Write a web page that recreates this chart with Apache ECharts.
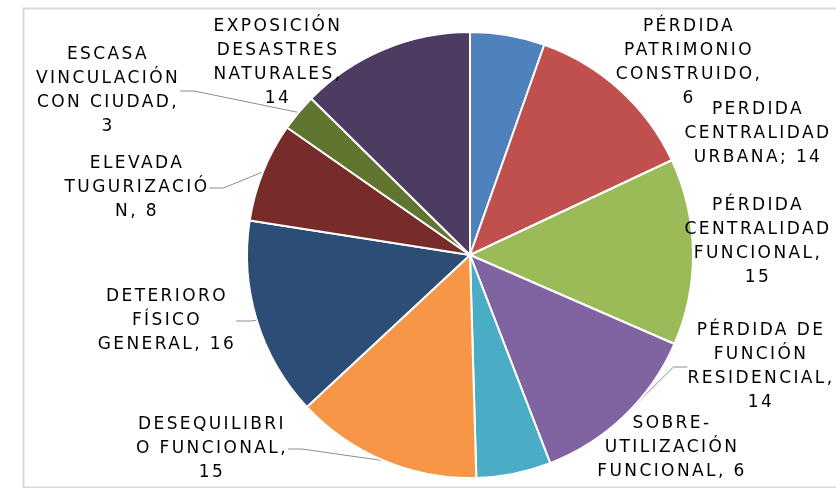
<!DOCTYPE html>
<html>
<head>
<meta charset="utf-8">
<script src="https://cdn.jsdelivr.net/npm/echarts@6/dist/echarts.min.js"></script>
<style>
  html, body { margin: 0; padding: 0; background: #fff; }
  #chart { width: 836px; height: 488px; }
</style>
</head>
<body>
<div id="chart"></div>
<script>
// categories (clockwise from 12 o'clock)
var categories = [
    'Pérdida patrimonio construido',
    'Perdida centralidad urbana',
    'Pérdida centralidad funcional',
    'Pérdida de función residencial',
    'Sobre-utilización funcional',
    'Desequilibrio funcional',
    'Deterioro físico general',
    'Elevada tugurización',
    'Escasa vinculación con ciudad',
    'Exposición desastres naturales'
]
var values = [6, 14, 15, 14, 6, 15, 16, 8, 3, 14]
// label text as wrapped in the original (value is appended)
var labelTexts = [
    'PÉRDIDA\nPATRIMONIO\nCONSTRUIDO,\n',
    'PERDIDA\nCENTRALIDAD\nURBANA; ',
    'PÉRDIDA\nCENTRALIDAD\nFUNCIONAL,\n',
    'PÉRDIDA DE\nFUNCIÓN\nRESIDENCIAL,\n',
    'SOBRE-\nUTILIZACIÓN\nFUNCIONAL, ',
    'DESEQUILIBRI\nO FUNCIONAL,\n',
    'DETERIORO\nFÍSICO\nGENERAL, ',
    'ELEVADA\nTUGURIZACIÓ\nN, ',
    'ESCASA\nVINCULACIÓN\nCON CIUDAD,\n',
    'EXPOSICIÓN\nDESASTRES\nNATURALES,\n'
]
var colors = ['#4F81BD', '#C0504D', '#9BBB59', '#8064A2', '#4BACC6',
              '#F79646', '#2C4D75', '#772C2A', '#5F7530', '#4D3B62']
// where each label block is centred (px)
var labelPos = [
    [689, 63], [758, 134], [758, 242], [761, 367], [672, 448],
    [212, 449], [167, 321], [137, 188], [108, 91], [278, 63]
]
var withLine = [false, false, false, true, false, true, true, true, true, false]

// the original labels are letter-spaced: measure and draw with the same spacing
var letterSpacing = '2.4px'
var measureCtx = document.createElement('canvas').getContext('2d')
echarts.setPlatformAPI({
    measureText: function (text, font) {
        measureCtx.font = font || '12px sans-serif'
        measureCtx.letterSpacing = letterSpacing
        return measureCtx.measureText(text)
    }
})
var origFillText = CanvasRenderingContext2D.prototype.fillText
CanvasRenderingContext2D.prototype.fillText = function () {
    this.letterSpacing = letterSpacing
    return origFillText.apply(this, arguments)
}

var myChart = echarts.init(document.getElementById('chart'))

var seriesData = categories.map(function (name, i) {
    return {
        name: name,
        value: values[i],
        itemStyle: { color: colors[i] },
        labelLine: { show: withLine[i] }
    }
})

var option = {
    animation: false,
    graphic: [{
        type: 'rect',
        left: 21,
        top: 6,
        shape: { width: 900, height: 479 },
        style: { fill: 'none', stroke: '#d9d9d9', lineWidth: 2 },
        silent: true
    }],
    series: [{
        type: 'pie',
        center: [470, 255],
        radius: 223,
        startAngle: 90,
        clockwise: true,
        avoidLabelOverlap: false,
        itemStyle: { borderColor: '#fff', borderWidth: 2 },
        emphasis: { disabled: true },
        label: {
            show: true,
            color: '#000',
            fontFamily: 'DejaVu Sans',
            fontSize: 17,
            lineHeight: 24,
            align: 'center',
            formatter: function (p) {
                return labelTexts[p.dataIndex] + p.value
            }
        },
        labelLine: {
            length: 10,
            length2: 14,
            lineStyle: { color: '#8c8c8c', width: 1 }
        },
        labelLayout: function (p) {
            var pos = labelPos[p.dataIndex]
            return {
                x: pos[0],
                y: pos[1],
                align: 'center',
                verticalAlign: 'middle'
            }
        },
        data: seriesData
    }]
}
myChart.setOption(option)
</script>
</body>
</html>
